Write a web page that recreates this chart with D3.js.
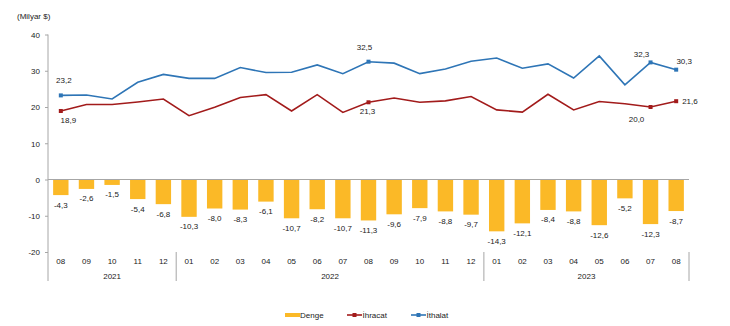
<!DOCTYPE html>
<html>
<head>
<meta charset="utf-8">
<script src="https://cdn.jsdelivr.net/npm/d3@7"></script>
<style>
  body { margin: 0; background: #fff; }
  svg { display: block; font-family: "Liberation Sans", Arial, sans-serif; }
  .lbl { font-size: 8px; fill: #222; }
  .axis text { font-size: 8px; fill: #222; }
  .axis line { stroke: #a6a6a6; }
</style>
</head>
<body>
<svg width="730" height="326"></svg>
<script>
// monthly foreign trade, billion USD
const months = ['08', '09', '10', '11', '12',
  '01', '02', '03', '04', '05', '06', '07', '08', '09', '10', '11', '12',
  '01', '02', '03', '04', '05', '06', '07', '08'];
const years = [
  { year: '2021', from: 0, to: 4 },
  { year: '2022', from: 5, to: 16 },
  { year: '2023', from: 17, to: 24 }
];
const ihracat = [18.9, 20.7, 20.7, 21.4, 22.2,
  17.6, 19.9, 22.6, 23.4, 18.9, 23.4, 18.5, 21.3, 22.5, 21.3, 21.7, 22.9,
  19.2, 18.6, 23.5, 19.2, 21.5, 20.9, 20.0, 21.6];
const ithalat = [23.2, 23.3, 22.2, 26.8, 29.0,
  27.9, 27.9, 30.9, 29.5, 29.6, 31.6, 29.2, 32.5, 32.1, 29.2, 30.5, 32.6,
  33.5, 30.7, 31.9, 28.0, 34.1, 26.1, 32.3, 30.3];
const denge = [-4.3, -2.6, -1.5, -5.4, -6.8,
  -10.3, -8.0, -8.3, -6.1, -10.7, -8.2, -10.7, -11.3, -9.6, -7.9, -8.8, -9.7,
  -14.3, -12.1, -8.4, -8.8, -12.6, -5.2, -12.3, -8.7];
const yTicks = [-20, -10, 0, 10, 20, 30, 40];
const labelled = [0, 12, 23, 24];

const colors = { denge: '#fbb927', ihracat: '#a21b1b', ithalat: '#2e75b6' };
const trLocale = d3.formatLocale({ decimal: ',', thousands: '.', grouping: [3], currency: ['', ''], minus: '-' });
const fmt = trLocale.format('.1f');

const svg = d3.select('svg');
const idx = months.map((m, i) => i);

const x = d3.scaleBand().domain(idx).range([48, 689]).paddingInner(0.4).paddingOuter(0.2);
const cx = i => x(i) + x.bandwidth() / 2;
const y = d3.scaleLinear().domain([-20, 40]).range([252, 34.5]);

svg.append('text').attr('class', 'lbl')
  .attr('x', 17).attr('y', 18.5)
  .text('(Milyar $)');

// y axis
const yAxis = svg.append('g').attr('class', 'axis')
  .attr('transform', 'translate(48,0)')
  .call(d3.axisLeft(y).tickValues(yTicks).tickSize(3).tickPadding(5).tickFormat(trLocale.format('d')));
yAxis.select('.domain').remove();
yAxis.selectAll('text').attr('dy', '0.35em');

svg.append('line')
  .attr('x1', 48).attr('x2', 48)
  .attr('y1', y(40)).attr('y2', 281)
  .attr('stroke', '#a6a6a6');

// bars
svg.selectAll('.bar')
  .data(denge)
  .enter()
  .append('rect')
  .attr('class', 'bar')
  .attr('x', (d, i) => x(i))
  .attr('y', y(0))
  .attr('width', x.bandwidth())
  .attr('height', d => y(d) - y(0))
  .attr('fill', colors.denge);

svg.selectAll('.barLbl')
  .data(denge)
  .enter()
  .append('text')
  .attr('class', 'lbl')
  .attr('x', (d, i) => cx(i))
  .attr('y', d => y(d) + 12.5)
  .attr('text-anchor', 'middle')
  .text(d => fmt(d));

// zero line
svg.append('line')
  .attr('x1', 48).attr('x2', 689)
  .attr('y1', y(0)).attr('y2', y(0))
  .attr('stroke', '#a6a6a6');

// lines
const line = d3.line().x((d, i) => cx(i)).y(d => y(d));
[['ithalat', ithalat], ['ihracat', ihracat]].forEach(([key, vals]) => {
  svg.append('path')
    .datum(vals)
    .attr('d', line)
    .attr('fill', 'none')
    .attr('stroke', colors[key])
    .attr('stroke-width', 1.6);
  svg.selectAll('.mk-' + key)
    .data(labelled)
    .enter()
    .append('rect')
    .attr('x', i => cx(i) - 2)
    .attr('y', i => y(vals[i]) - 2)
    .attr('width', 4).attr('height', 4)
    .attr('fill', colors[key]);
});

// value labels on the lines
const place = {
  ithalat: { 0: [3, -12.5, 'middle'], 12: [-4, -12, 'middle'], 23: [-9, -5.5, 'middle'], 24: [8, -5.5, 'middle'] },
  ihracat: { 0: [7.5, 12, 'middle'], 12: [-1, 12, 'middle'], 23: [-14, 15, 'middle'], 24: [6, 3, 'start'] }
};
[['ithalat', ithalat], ['ihracat', ihracat]].forEach(([key, vals]) => {
  labelled.forEach(i => {
    const p = place[key][i];
    svg.append('text').attr('class', 'lbl')
      .attr('x', cx(i) + p[0])
      .attr('y', y(vals[i]) + p[1])
      .attr('text-anchor', p[2])
      .text(fmt(vals[i]));
  });
});

// month labels and year groups
svg.selectAll('.mon')
  .data(months)
  .enter()
  .append('text')
  .attr('class', 'lbl')
  .attr('x', (d, i) => cx(i))
  .attr('y', 264)
  .attr('text-anchor', 'middle')
  .text(d => d);

years.forEach(g => {
  svg.append('text').attr('class', 'lbl')
    .attr('x', (cx(g.from) + cx(g.to)) / 2)
    .attr('y', 278.5)
    .attr('text-anchor', 'middle')
    .text(g.year);
  const edge = x(g.to) + x.bandwidth() + x.step() * 0.2;
  svg.append('line')
    .attr('x1', edge).attr('x2', edge)
    .attr('y1', 252).attr('y2', 281)
    .attr('stroke', '#a6a6a6');
});

// legend
const legend = svg.append('g').attr('transform', 'translate(0,315)');
legend.append('rect')
  .attr('x', 285).attr('y', -2).attr('width', 15).attr('height', 4)
  .attr('fill', colors.denge);
legend.append('text').attr('class', 'lbl').attr('x', 300).attr('y', 3).text('Denge');
[['ihracat', 347, 'İhracat'], ['ithalat', 411, 'İthalat']].forEach(([key, lx, name]) => {
  legend.append('line')
    .attr('x1', lx).attr('x2', lx + 15)
    .attr('stroke', colors[key]).attr('stroke-width', 1.6);
  legend.append('rect')
    .attr('x', lx + 5.5).attr('y', -2).attr('width', 4).attr('height', 4)
    .attr('fill', colors[key]);
  legend.append('text').attr('class', 'lbl').attr('x', lx + 15.5).attr('y', 3).text(name);
});
</script>
</body>
</html>
